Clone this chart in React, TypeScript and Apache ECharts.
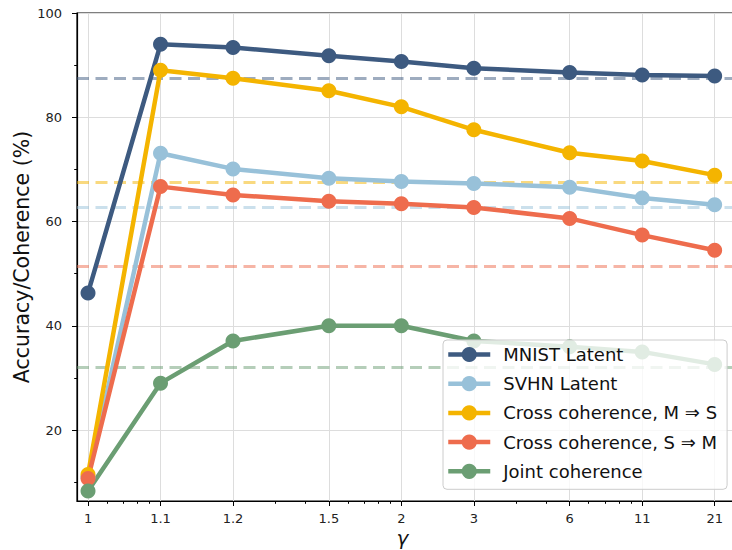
import React, { useEffect, useRef } from "react";
import * as echarts from "echarts";

// γ tick labels and their plotting positions on the log axis (γ − 1; γ = 1 is placed at 0.05)
const gammaLabels = ["1", "1.1", "1.2", "1.5", "2", "3", "6", "11", "21"];
const xPositions = [0.05, 0.1, 0.2, 0.5, 1, 2, 5, 10, 20];
const xMinorTicks = [0.06, 0.07, 0.08, 0.09, 0.3, 0.4, 0.6, 0.7, 0.8, 0.9, 3, 4, 6, 7, 8, 9];

const yMajorTicks = [20, 40, 60, 80, 100];
const yMinorTicks = [10, 30, 50, 70, 90];

const seriesNames = [
  "MNIST Latent",
  "SVHN Latent",
  "Cross coherence, M ⇒ S",
  "Cross coherence, S ⇒ M",
  "Joint coherence",
];
const mnistLatent = [46.3, 94.0, 93.4, 91.8, 90.7, 89.4, 88.6, 88.1, 87.9];
const svhnLatent = [11.0, 73.1, 70.1, 68.3, 67.7, 67.3, 66.6, 64.5, 63.2];
const crossMS = [11.5, 89.0, 87.5, 85.1, 82.0, 77.6, 73.2, 71.6, 68.9];
const crossSM = [10.7, 66.7, 65.1, 63.9, 63.4, 62.7, 60.6, 57.4, 54.5];
const jointCoherence = [8.3, 29.0, 37.1, 40.0, 40.0, 37.1, 36.0, 35.0, 32.6];
const baselines = [87.5, 62.8, 67.5, 51.5, 32.0];

const colors = ["#3d5a80", "#98c1d9", "#f4b400", "#ee6c4d", "#6b9e73"];

const FONT = "DejaVu Sans";

export default function App() {
  const ref = useRef<HTMLDivElement>(null);

  useEffect(() => {
    if (!ref.current) return;
    const chart = echarts.init(ref.current, null, { renderer: "svg" });
    const allValues = [mnistLatent, svhnLatent, crossMS, crossSM, jointCoherence];

    const fmt = (v: number) => {
      const i = xPositions.findIndex((p) => Math.abs(Math.log10(p) - Math.log10(v)) < 1e-4);
      return i >= 0 ? gammaLabels[i] : "";
    };

    const series = seriesNames.map((name, k) => ({
      type: "line",
      name,
      xAxisIndex: 0,
      yAxisIndex: 0,
      data: xPositions.map((x, i) => [x, allValues[k][i]]),
      symbol: "circle",
      symbolSize: 15,
      lineStyle: { width: 4.5, color: colors[k] },
      itemStyle: { color: colors[k], borderWidth: 0 },
      emphasis: { disabled: true },
      markLine: {
        silent: true,
        symbol: "none",
        z: 1,
        label: { show: false },
        emphasis: { disabled: true },
        lineStyle: { color: colors[k], opacity: 0.5, width: 3, type: [12, 6.5] },
        data: [{ yAxis: baselines[k] }],
      },
    }));

    const xMin = 0.045;
    const xMax = 25;
    const yMin = 6.4;
    const yMax = 100;

    const option: any = {
      animation: false,
      textStyle: { fontFamily: FONT },
      grid: {
        left: 77,
        right: -6,
        top: 13,
        bottom: 49,
        show: true,
        borderColor: "#000",
        borderWidth: 1.2,
        containLabel: false,
        outerBoundsMode: "none",
      },
      legend: {
        orient: "vertical",
        left: 443,
        top: 340,
        itemWidth: 42,
        itemHeight: 19,
        itemGap: 11.2,
        padding: [5.5, 10, 9, 3],
        backgroundColor: "rgba(255,255,255,0.8)",
        borderColor: "#cccccc",
        borderWidth: 1,
        borderRadius: 4,
        lineStyle: { width: 4.5 },
        itemStyle: { borderWidth: 0 },
        textStyle: { fontSize: 18, color: "#111", fontFamily: FONT, padding: [0, 0, 0, 8] },
        data: seriesNames,
      },
      xAxis: [
        {
          type: "log",
          logBase: 10,
          min: xMin,
          max: xMax,
          name: "γ",
          nameLocation: "middle",
          nameGap: 27,
          nameMoveOverlap: false,
          nameTextStyle: {
            fontSize: 20,
            lineHeight: 20,
            fontStyle: "italic",
            color: "#111",
            fontFamily: FONT,
            padding: [0, 10, 0, 0],
          },
          axisLine: { show: true, lineStyle: { color: "#000", width: 1.2 } },
          axisTick: {
            show: true,
            length: 5,
            customValues: xPositions,
            lineStyle: { color: "#000", width: 1 },
          },
          axisLabel: {
            customValues: xPositions,
            formatter: fmt,
            fontSize: 13,
            color: "#222",
            margin: 11,
            fontFamily: FONT,
          },
          splitLine: { show: true, lineStyle: { color: "#dddddd", width: 1 } },
          minorTick: { show: false },
          minorSplitLine: { show: false },
        },
        {
          type: "log",
          logBase: 10,
          min: xMin,
          max: xMax,
          position: "bottom",
          axisLine: { show: false },
          axisTick: {
            show: true,
            length: 2.8,
            customValues: xMinorTicks,
            lineStyle: { color: "#000", width: 1 },
          },
          axisLabel: { show: false },
          splitLine: { show: false },
        },
      ],
      yAxis: [
        {
          type: "value",
          min: yMin,
          max: yMax,
          name: "Accuracy/Coherence (%)",
          nameLocation: "middle",
          nameGap: 45,
          nameMoveOverlap: false,
          nameTextStyle: { fontSize: 20.5, color: "#111", fontFamily: FONT },
          axisLine: { show: true, lineStyle: { color: "#000", width: 1.2 } },
          axisTick: {
            show: true,
            length: 5,
            customValues: yMajorTicks,
            lineStyle: { color: "#000", width: 1 },
          },
          axisLabel: {
            customValues: yMajorTicks,
            fontSize: 13,
            color: "#222",
            margin: 15,
            fontFamily: FONT,
          },
          splitLine: { show: true, lineStyle: { color: "#dddddd", width: 1 } },
        },
        {
          type: "value",
          min: yMin,
          max: yMax,
          position: "left",
          axisLine: { show: false },
          axisTick: {
            show: true,
            length: 2.8,
            customValues: yMinorTicks,
            lineStyle: { color: "#000", width: 1 },
          },
          axisLabel: { show: false },
          splitLine: { show: false },
        },
      ],
      series,
    };

    chart.setOption(option);
    return () => chart.dispose();
  }, []);

  return (
    <div
      ref={ref}
      style={{ position: "absolute", left: 0, top: 0, width: 732, height: 550, overflow: "hidden", background: "#fff" }}
    />
  );
}
